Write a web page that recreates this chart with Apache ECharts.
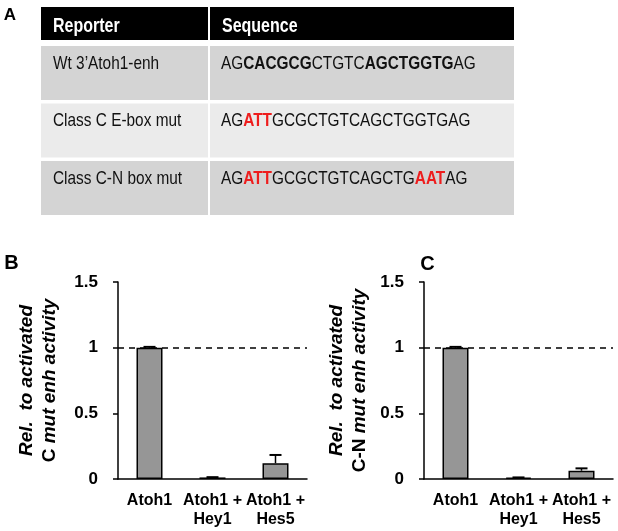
<!DOCTYPE html>
<html>
<head>
<meta charset="utf-8">
<script src="https://cdn.jsdelivr.net/npm/echarts@6/dist/echarts.min.js"></script>
<style>
  html, body { margin: 0; padding: 0; background: #fff; }
  #main { width: 618px; height: 531px; }
</style>
</head>
<body>
<div id="main"></div>
<script>
// table (panel A)
const tableHeader = ['Reporter', 'Sequence'];
const reporters = ['Wt 3\u2019Atoh1-enh', 'Class C E-box mut', 'Class C-N box mut'];
// sequence pieces: [text, style]  n = normal, b = bold, r = red bold
const sequences = [
  [['AG', 'n'], ['CACGCG', 'b'], ['CTGTC', 'n'], ['AGCTGGTG', 'b'], ['AG', 'n']],
  [['AG', 'n'], ['ATT', 'r'], ['GCGCTGTCAGCTGGTGAG', 'n']],
  [['AG', 'n'], ['ATT', 'r'], ['GCGCTGTCAGCTG', 'n'], ['AAT', 'r'], ['AG', 'n']]
];

// bar charts (panels B and C)
const categories = ['Atoh1', 'Atoh1 +\nHey1', 'Atoh1 +\nHes5'];
const valuesB = [1.0, 0.012, 0.12];
const errorsB = [0.006, 0.002, 0.063];
const valuesC = [1.0, 0.01, 0.063];
const errorsC = [0.006, 0.002, 0.018];
const refLevel = 1;
const yMin = 0, yMax = 1.5, yStep = 0.5;
const yNames = [
  '{i|Rel.  to activated}\n{u|C }{i|mut enh activity}',
  '{i|Rel.  to activated}\n{u|C-N }{i|mut enh activity}'
];

const FONT = 'Liberation Sans, Arial, sans-serif';
const chart = echarts.init(document.getElementById('main'));

// ---- table graphics ----
const graphic = [];
const tL = 41, tR = 514, split = 209;
graphic.push({ type: 'rect', shape: { x: tL, y: 7, width: tR - tL, height: 33 }, style: { fill: '#000' } });
graphic.push({ type: 'rect', shape: { x: split - 1, y: 7, width: 2, height: 33 }, style: { fill: '#fff' } });
tableHeader.forEach(function (h, i) {
  graphic.push({
    type: 'text', x: i === 0 ? 53 : 222, y: 26, scaleX: 0.8,
    style: { text: h, fill: '#fff', font: 'bold 20px ' + FONT, textAlign: 'left', textVerticalAlign: 'middle' }
  });
});
const seqRich = {
  n: { fontFamily: FONT, fontSize: 19, fill: '#111' },
  b: { fontFamily: FONT, fontSize: 19, fontWeight: 'bold', fill: '#111' },
  r: { fontFamily: FONT, fontSize: 19, fontWeight: 'bold', fill: '#ee1d1d' }
};
reporters.forEach(function (rep, i) {
  const top = 46 + i * 57.5;
  const fill = i % 2 === 0 ? '#d4d4d4' : '#ebebeb';
  graphic.push({ type: 'rect', shape: { x: tL, y: top, width: split - 1 - tL, height: 54 }, style: { fill: fill } });
  graphic.push({ type: 'rect', shape: { x: split + 1, y: top, width: tR - split - 1, height: 54 }, style: { fill: fill } });
  graphic.push({
    type: 'text', x: 53, y: top + 17.5, scaleX: 0.81,
    style: { text: rep, fill: '#111', font: '19px ' + FONT, textAlign: 'left', textVerticalAlign: 'middle' }
  });
  const txt = sequences[i].map(function (p) { return '{' + p[1] + '|' + p[0] + '}'; }).join('');
  graphic.push({
    type: 'text', x: 221, y: top + 17.5, scaleX: 0.81,
    style: { text: txt, rich: seqRich, textAlign: 'left', textVerticalAlign: 'middle' }
  });
});
// panel letters
[['A', 10, 15, 17], ['B', 11.5, 263, 20], ['C', 427.5, 264, 20]].forEach(function (l) {
  graphic.push({
    type: 'text', x: l[1], y: l[2],
    style: { text: l[0], fill: '#000', font: 'bold ' + l[3] + 'px ' + FONT, textAlign: 'center', textVerticalAlign: 'middle' }
  });
});

// ---- bar charts ----
function errorItem(params, api) {
  const base = api.coord([api.value(0), api.value(1)]);
  const top = api.coord([api.value(0), api.value(1) + api.value(2)]);
  return {
    type: 'group',
    children: [
      { type: 'line', shape: { x1: base[0], y1: base[1], x2: top[0], y2: top[1] }, style: { stroke: '#000', lineWidth: 1.5 } },
      { type: 'line', shape: { x1: top[0] - 6, y1: top[1], x2: top[0] + 6, y2: top[1] }, style: { stroke: '#000', lineWidth: 2 } }
    ]
  };
}

const lefts = [118, 424];
const nameGaps = [80, 76];
const grids = [], xAxes = [], yAxes = [], series = [];
[[valuesB, errorsB], [valuesC, errorsC]].forEach(function (d, k) {
  grids.push({ left: lefts[k], top: 282, width: 189, height: 197, outerBoundsMode: 'none' });
  xAxes.push({
    type: 'category', gridIndex: k, data: categories,
    axisLine: { lineStyle: { color: '#000', width: 1.5 } },
    axisTick: { length: 5, lineStyle: { color: '#000', width: 1.5 } },
    axisLabel: { interval: 0, margin: 12, color: '#000', fontFamily: FONT, fontWeight: 'bold', fontSize: 16, lineHeight: 19 }
  });
  yAxes.push({
    type: 'value', gridIndex: k, min: yMin, max: yMax, interval: yStep,
    name: yNames[k], nameLocation: 'middle', nameRotate: 90, nameGap: nameGaps[k],
    nameTextStyle: {
      align: 'center', verticalAlign: 'middle', lineHeight: 23,
      rich: {
        i: { fontFamily: FONT, fontSize: 19, fontWeight: 'bold', fontStyle: 'italic', color: '#000', lineHeight: 23 },
        u: { fontFamily: FONT, fontSize: 19, fontWeight: 'bold', color: '#000', lineHeight: 23 }
      }
    },
    splitLine: { show: false },
    axisLine: { show: true, lineStyle: { color: '#000', width: 1.5 } },
    axisTick: { show: true, length: 5, lineStyle: { color: '#000', width: 1.5 } },
    axisLabel: { margin: 20, color: '#000', fontFamily: FONT, fontWeight: 'bold', fontSize: 17 }
  });
  series.push({
    type: 'bar', xAxisIndex: k, yAxisIndex: k, data: d[0], barWidth: 26,
    itemStyle: { color: '#969696', borderColor: '#000', borderWidth: 1.5 },
    markLine: {
      silent: true, symbol: 'none', label: { show: false },
      lineStyle: { color: '#000', width: 1.5, type: [6, 5] },
      data: [{ yAxis: refLevel }]
    }
  });
  series.push({
    type: 'custom', xAxisIndex: k, yAxisIndex: k, z: 5,
    data: d[0].map(function (v, i) { return [i, v, d[1][i]]; }),
    encode: { x: 0, y: 1 },
    renderItem: errorItem
  });
});

chart.setOption({
  animation: false,
  backgroundColor: '#fff',
  graphic: graphic,
  grid: grids,
  xAxis: xAxes,
  yAxis: yAxes,
  series: series
});
</script>
</body>
</html>
